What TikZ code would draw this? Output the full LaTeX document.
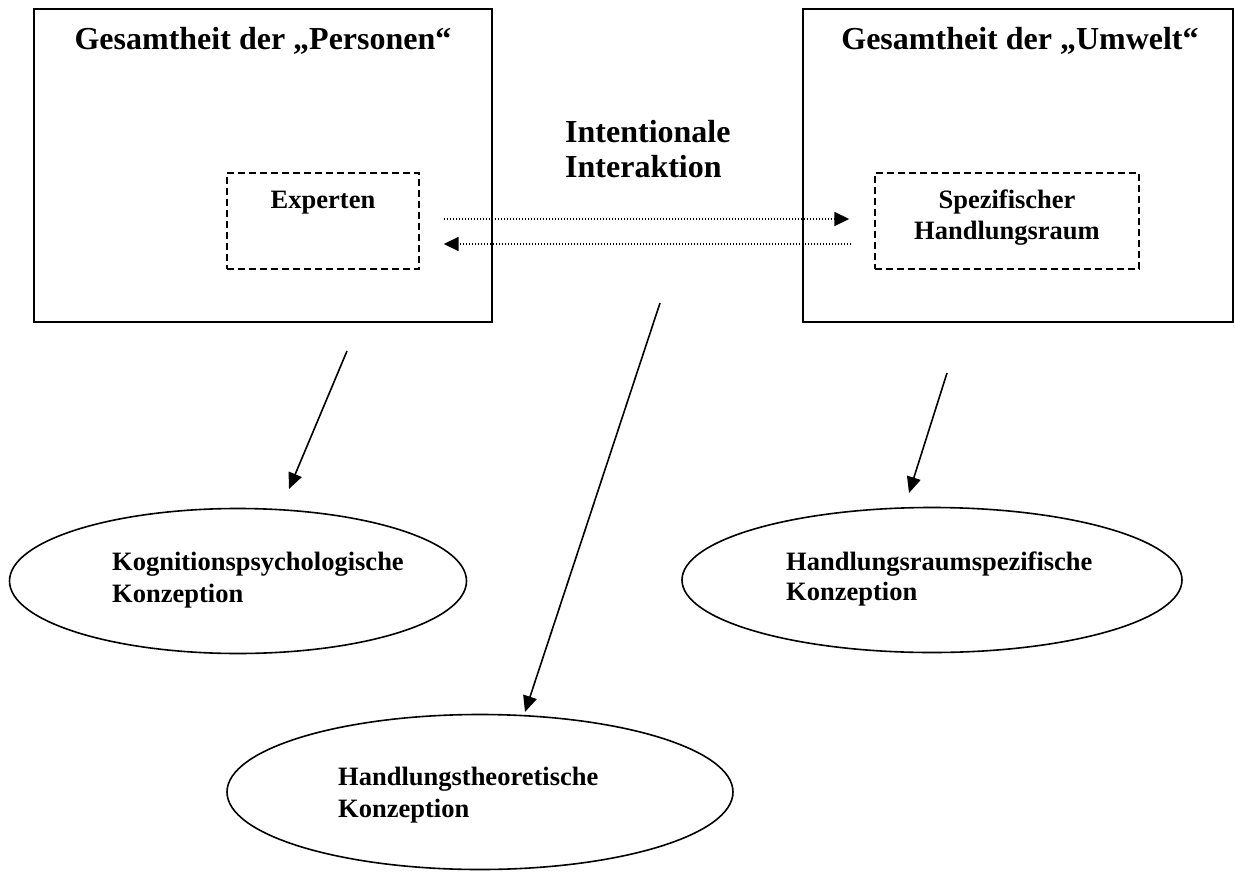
\documentclass[tikz,border=0pt]{standalone}
\usepackage{fontspec}
\setmainfont{Liberation Serif}
\usetikzlibrary{shapes.geometric,arrows.meta}
\begin{document}
\begin{tikzpicture}[x=1pt,y=-1pt,
  box/.style={draw,line width=1.5pt,inner sep=0pt},
  dbox/.style={draw,line width=1.4pt,dash pattern=on 7pt off 4pt,inner sep=0pt},
  oval/.style={draw,ellipse,line width=1.6pt,inner sep=0pt},
  big/.style={font=\fontsize{32}{37}\selectfont\bfseries,inner sep=0pt},
  small/.style={font=\fontsize{26.5}{31}\selectfont\bfseries,inner sep=0pt},
  arr/.style={line width=1.6pt,-{Triangle[length=16pt,width=14pt]}},
  darr/.style={line width=1.6pt,dash pattern=on 1.5pt off 1.5pt,-{Triangle[length=15pt,width=14pt]}}]
\useasboundingbox (0,0) rectangle (1235,883);
\fill[white] (0,0) rectangle (1235,883);
% main boxes
\node[box,minimum width=458pt,minimum height=313pt] (P) at (263,165.5) {};
\node[box,minimum width=430pt,minimum height=313pt] (U) at (1018,165.5) {};
\node[big,anchor=base] (Pt) at (263,50) {Gesamtheit der „Personen“};
\node[big,anchor=base] (Ut) at (1020,50) {Gesamtheit der „Umwelt“};
% dashed boxes
\node[dbox,minimum width=192pt,minimum height=96pt] (E) at (323,221) {};
\node[dbox,minimum width=264pt,minimum height=96pt] (S) at (1007,221) {};
\node[small,anchor=base] (Et) at (323,208) {Experten};
\node[small,anchor=base] (St1) at (1007,208) {Spezifischer};
\node[small,anchor=base] (St2) at (1007,239) {Handlungsraum};
% interaction label
\node[big,anchor=base west] (I1) at (565,142) {Intentionale};
\node[big,anchor=base west] (I2) at (565,177) {Interaktion};
% dotted arrows
\draw[darr,shorten <=24pt,shorten >=25pt] ([yshift=2pt]E.east) -- ([yshift=2pt]S.west);
\draw[darr,shorten <=23pt,shorten >=24pt] ([yshift=-23pt]S.west) -- ([yshift=-23pt]E.east);
% ellipses
\node[oval,minimum width=457pt,minimum height=145pt] (K) at (238,581) {};
\node[oval,minimum width=500pt,minimum height=145pt] (R) at (932,580) {};
\node[oval,minimum width=506pt,minimum height=155pt] (H) at (480,792) {};
\node[small,anchor=base west] (K1) at (112,570) {Kognitionspsychologische};
\node[small,anchor=base west] (K2) at (112,602) {Konzeption};
\node[small,anchor=base west] (R1) at (786,570) {Handlungsraumspezifische};
\node[small,anchor=base west] (R2) at (786,600) {Konzeption};
\node[small,anchor=base west] (H1) at (338,785) {Handlungstheoretische};
\node[small,anchor=base west] (H2) at (338,817) {Konzeption};
% solid arrows
\coordinate (a1s) at (347,351);
\coordinate (a1e) at (289,489);
\coordinate (a2s) at (660,303);
\coordinate (a2e) at (525,712);
\coordinate (a3s) at (947,373);
\coordinate (a3e) at (909,493);
\draw[arr] (a1s) -- (a1e);
\draw[arr] (a2s) -- (a2e);
\draw[arr] (a3s) -- (a3e);
\end{tikzpicture}
\end{document}
